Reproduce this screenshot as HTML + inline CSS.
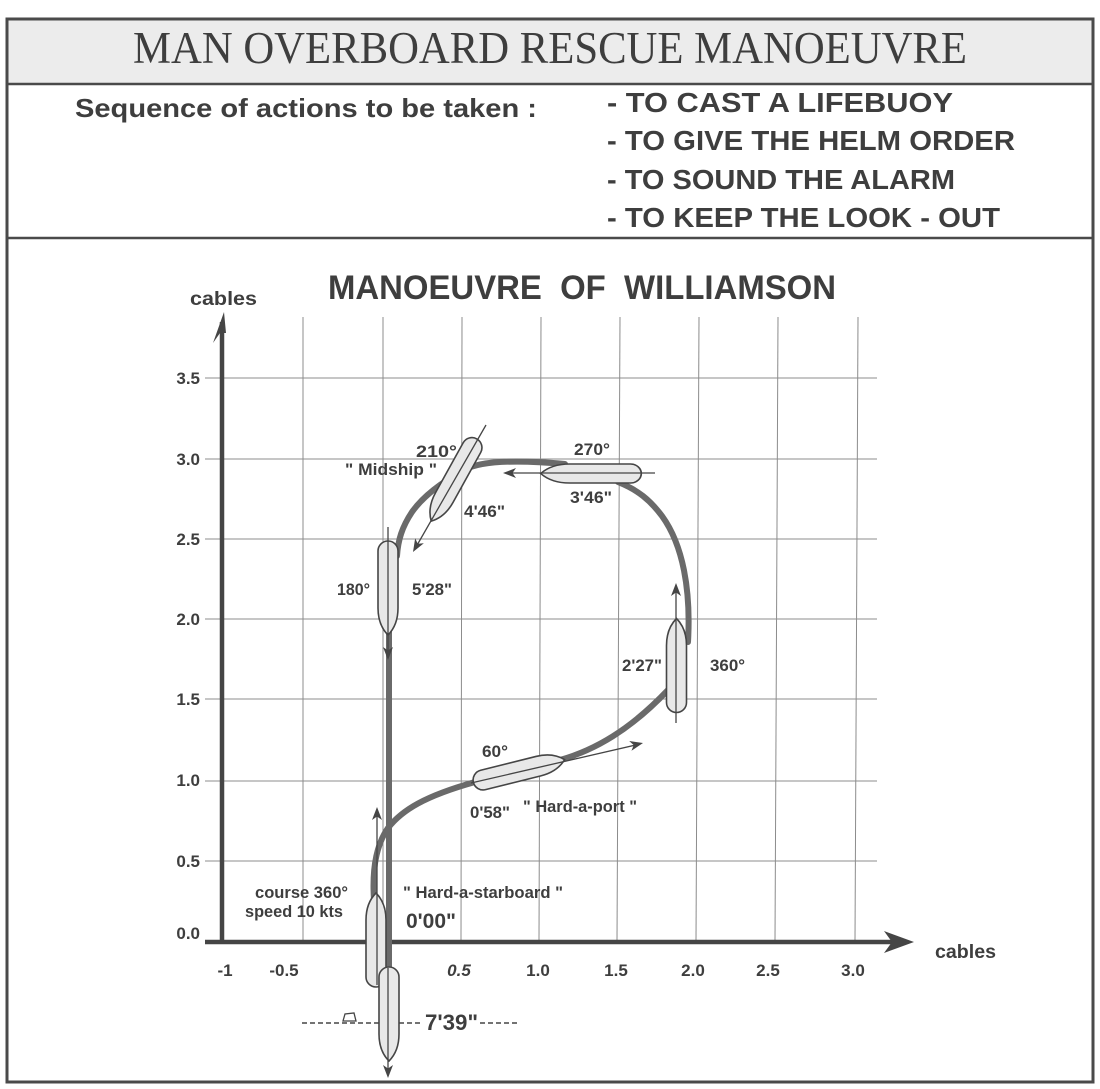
<!DOCTYPE html>
<html><head><meta charset="utf-8"><style>
html,body{margin:0;padding:0;background:#fff}
svg{display:block}
text{font-family:"Liberation Sans",Arial,sans-serif;font-weight:bold;fill:#3e3e3e}
</style></head><body>
<svg width="1100" height="1089" viewBox="0 0 1100 1089" xmlns="http://www.w3.org/2000/svg">
<defs>
<path id="ship" d="M-10,37 L-10,-20 Q-10,-37 0,-47 Q10,-37 10,-20 L10,37 A10,10 0 0 1 -10,37 Z" fill="#e8e8e8" stroke="#454545" stroke-width="1.6"/>
<path id="ah" d="M0,0 L-5,13 L0,9.5 L5,13 Z" fill="#454545"/>
</defs>

<!-- frame -->
<rect x="8.5" y="20.5" width="1083" height="63" fill="#ececec"/>
<rect x="7" y="19" width="1086" height="1063" fill="none" stroke="#4a4a4a" stroke-width="3"/>
<line x1="7" y1="84" x2="1093" y2="84" stroke="#4a4a4a" stroke-width="2.5"/>
<line x1="7" y1="238" x2="1093" y2="238" stroke="#4a4a4a" stroke-width="2.5"/>

<!-- header -->
<text x="550" y="63" text-anchor="middle" font-size="45" textLength="834" lengthAdjust="spacingAndGlyphs" style="font-family:'Liberation Serif','Times New Roman',serif;font-weight:normal">MAN OVERBOARD RESCUE MANOEUVRE</text>
<text x="75" y="117" font-size="26" textLength="462" lengthAdjust="spacingAndGlyphs">Sequence of actions to be taken :</text>
<text x="607" y="112" font-size="28" textLength="346" lengthAdjust="spacingAndGlyphs">- TO CAST A LIFEBUOY</text>
<text x="607" y="150" font-size="28" textLength="408" lengthAdjust="spacingAndGlyphs">- TO GIVE THE HELM ORDER</text>
<text x="607" y="189" font-size="28" textLength="348" lengthAdjust="spacingAndGlyphs">- TO SOUND THE ALARM</text>
<text x="607" y="227" font-size="28" textLength="393" lengthAdjust="spacingAndGlyphs">- TO KEEP THE LOOK - OUT</text>

<!-- chart title -->
<text x="328" y="299" font-size="34" textLength="508" lengthAdjust="spacingAndGlyphs" style="white-space:pre" xml:space="preserve">MANOEUVRE  OF  WILLIAMSON</text>
<text x="190" y="305" font-size="19" textLength="67" lengthAdjust="spacingAndGlyphs">cables</text>

<!-- grid -->
<g stroke="#8c8c8c" stroke-width="1">
<line x1="303" y1="317" x2="303" y2="941"/>
<line x1="383" y1="317" x2="383" y2="941"/>
<line x1="462" y1="317" x2="461" y2="941"/>
<line x1="541" y1="317" x2="539" y2="941"/>
<line x1="620" y1="317" x2="617" y2="941"/>
<line x1="699" y1="317" x2="696" y2="941"/>
<line x1="778" y1="317" x2="775" y2="941"/>
<line x1="858" y1="317" x2="855" y2="941"/>
<line x1="205" y1="378" x2="877" y2="378"/>
<line x1="205" y1="459" x2="877" y2="459"/>
<line x1="205" y1="539" x2="877" y2="539"/>
<line x1="205" y1="619" x2="877" y2="619"/>
<line x1="205" y1="699" x2="877" y2="699"/>
<line x1="205" y1="781" x2="877" y2="781"/>
<line x1="205" y1="861" x2="877" y2="861"/>
</g>

<!-- axes -->
<line x1="222" y1="944" x2="222" y2="322" stroke="#454545" stroke-width="4.5"/>
<path d="M224,312 L213,343 L220,333 L226,333 Z" fill="#454545"/>
<line x1="205" y1="942" x2="895" y2="942" stroke="#454545" stroke-width="4.5"/>
<path d="M914,942 L884,931 L892,942 L884,953 Z" fill="#454545"/>
<text x="935" y="958" font-size="19" textLength="61" lengthAdjust="spacingAndGlyphs">cables</text>

<!-- y labels -->
<g font-size="17" text-anchor="end">
<text x="200" y="384">3.5</text>
<text x="200" y="465">3.0</text>
<text x="200" y="545">2.5</text>
<text x="200" y="625">2.0</text>
<text x="200" y="705">1.5</text>
<text x="200" y="786">1.0</text>
<text x="200" y="867">0.5</text>
<text x="200" y="939">0.0</text>
</g>
<!-- x labels -->
<g font-size="17" text-anchor="middle">
<text x="225" y="976">-1</text>
<text x="284" y="976">-0.5</text>
<text x="459" y="976" font-style="italic">0.5</text>
<text x="538" y="976">1.0</text>
<text x="616" y="976">1.5</text>
<text x="693" y="976">2.0</text>
<text x="768" y="976">2.5</text>
<text x="853" y="976">3.0</text>
</g>

<!-- track -->
<g fill="none" stroke="#6a6a6a" stroke-width="6" stroke-linecap="round">
<path d="M374,900 C372,870 376,845 388,828 C402,810 425,796 475,782"/>
<path d="M560,760 C595,750 630,730 668,690"/>
<path d="M688,642 C691,590 683,545 662,516 C650,500 638,490 618,482"/>
<path d="M565,464 C520,460 482,460 464,470 C444,481 424,495 412,512 C402,527 398,540 397,556"/>
<line x1="389" y1="628" x2="389" y2="975"/>
</g>

<!-- ships -->
<use href="#ship" transform="translate(376,940)"/>
<line x1="377" y1="985" x2="377" y2="812" stroke="#454545" stroke-width="1.3"/>
<use href="#ah" transform="translate(377,807)"/>

<use href="#ship" transform="translate(519,771) rotate(76)"/>
<line x1="471" y1="783" x2="640" y2="744" stroke="#454545" stroke-width="1.3"/>
<use href="#ah" transform="translate(643,743) rotate(77)"/>

<use href="#ship" transform="translate(676.5,665.5)"/>
<line x1="676" y1="723" x2="676" y2="588" stroke="#454545" stroke-width="1.3"/>
<use href="#ah" transform="translate(676,583)"/>

<use href="#ship" transform="translate(591,473.5) rotate(270) scale(0.95,1.07)"/>
<line x1="655" y1="473" x2="508" y2="473" stroke="#454545" stroke-width="1.3"/>
<use href="#ah" transform="translate(503,473) rotate(270)"/>

<use href="#ship" transform="translate(454,480) rotate(209)"/>
<line x1="486" y1="425" x2="416" y2="547" stroke="#454545" stroke-width="1.3"/>
<use href="#ah" transform="translate(413,552) rotate(210)"/>

<use href="#ship" transform="translate(388,588) rotate(180)"/>
<line x1="388" y1="527" x2="388" y2="655" stroke="#454545" stroke-width="1.3"/>
<use href="#ah" transform="translate(388,660) rotate(180)"/>

<use href="#ship" transform="translate(389,1014) rotate(180)"/>
<line x1="388" y1="968" x2="388" y2="1072" stroke="#454545" stroke-width="1.3"/>
<use href="#ah" transform="translate(388,1078) rotate(180)"/>

<!-- dashed line & lifebuoy -->
<g stroke="#454545" stroke-width="1.6" stroke-dasharray="5,3">
<line x1="302" y1="1023" x2="379" y2="1023"/>
<line x1="399" y1="1023" x2="421" y2="1023"/>
<line x1="480" y1="1023" x2="518" y2="1023"/>
</g>
<path d="M343,1021 L345,1014 L354,1013 L356,1021 Z" fill="#fff" stroke="#454545" stroke-width="1.3"/>

<!-- annotations -->
<g font-size="16.5" lengthAdjust="spacingAndGlyphs">
<text x="416" y="457" textLength="41" lengthAdjust="spacingAndGlyphs">210°</text>
<text x="345" y="475" textLength="92" lengthAdjust="spacingAndGlyphs">" Midship "</text>
<text x="464" y="517" textLength="41" lengthAdjust="spacingAndGlyphs">4'46"</text>
<text x="574" y="455" textLength="36" lengthAdjust="spacingAndGlyphs">270°</text>
<text x="570" y="503" textLength="42" lengthAdjust="spacingAndGlyphs">3'46"</text>
<text x="337" y="595" textLength="33" lengthAdjust="spacingAndGlyphs">180°</text>
<text x="412" y="595" textLength="40" lengthAdjust="spacingAndGlyphs">5'28"</text>
<text x="622" y="671" textLength="40" lengthAdjust="spacingAndGlyphs">2'27"</text>
<text x="710" y="671" textLength="35" lengthAdjust="spacingAndGlyphs">360°</text>
<text x="482" y="757" textLength="26" lengthAdjust="spacingAndGlyphs">60°</text>
<text x="470" y="818" textLength="40" lengthAdjust="spacingAndGlyphs">0'58"</text>
<text x="523" y="812" textLength="114" lengthAdjust="spacingAndGlyphs">" Hard-a-port "</text>
<text x="255" y="898" textLength="93" lengthAdjust="spacingAndGlyphs">course 360°</text>
<text x="245" y="917" textLength="98" lengthAdjust="spacingAndGlyphs">speed 10 kts</text>
<text x="403" y="898" textLength="160" lengthAdjust="spacingAndGlyphs">" Hard-a-starboard "</text>
</g>
<text x="406" y="928" font-size="21" textLength="50" lengthAdjust="spacingAndGlyphs">0'00"</text>
<text x="425" y="1030" font-size="22" textLength="53" lengthAdjust="spacingAndGlyphs">7'39"</text>
</svg>
</body></html>
